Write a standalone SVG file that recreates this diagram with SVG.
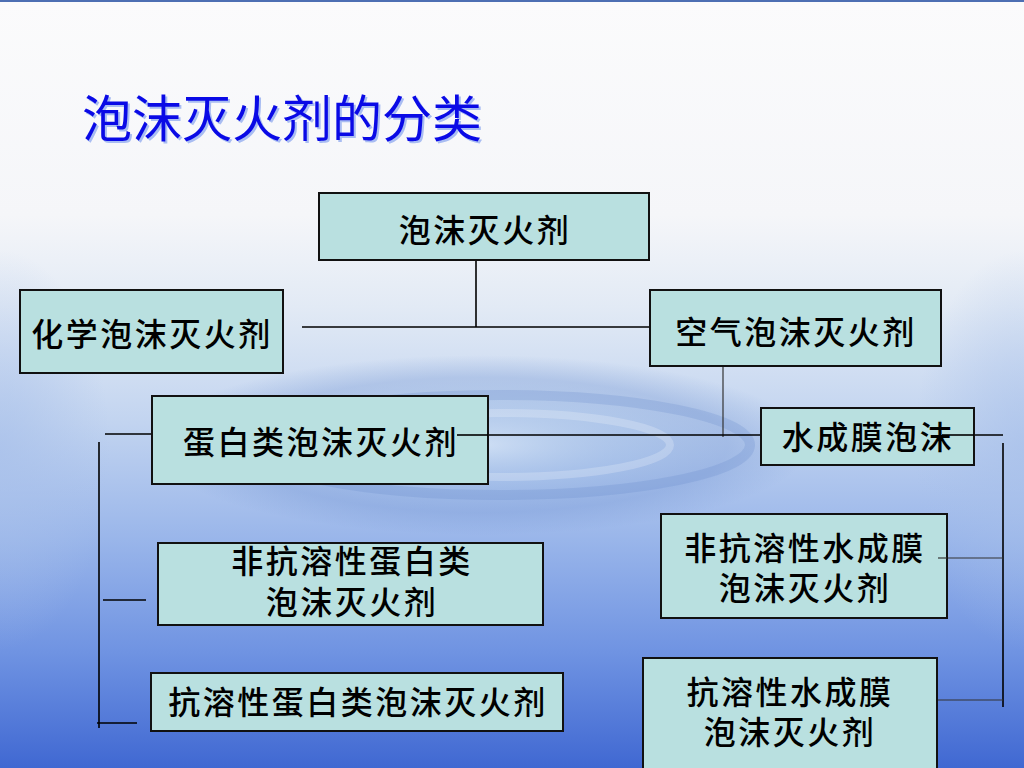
<svg xmlns="http://www.w3.org/2000/svg" width="1024" height="768" viewBox="0 0 1024 768">
<defs>
<linearGradient id="bg" x1="0" y1="0" x2="0" y2="1">
<stop offset="0" stop-color="#fbfbfc"/>
<stop offset="0.28" stop-color="#f5f6f9"/>
<stop offset="0.4" stop-color="#e2eaf5"/>
<stop offset="0.55" stop-color="#c2d4f0"/>
<stop offset="0.7" stop-color="#9ab6ea"/>
<stop offset="0.85" stop-color="#6f93e2"/>
<stop offset="1" stop-color="#4068d2"/>
</linearGradient>
<radialGradient id="rip" cx="0.5" cy="0.5" r="0.5">
<stop offset="0" stop-color="#dceaf8" stop-opacity="0.6"/>
<stop offset="0.45" stop-color="#8fb0e0" stop-opacity="0.35"/>
<stop offset="0.75" stop-color="#6c8fd0" stop-opacity="0.3"/>
<stop offset="1" stop-color="#6c8fd0" stop-opacity="0"/>
</radialGradient>
<radialGradient id="lside" cx="0" cy="0.5" r="0.5">
<stop offset="0" stop-color="#a8c0ea" stop-opacity="0.7"/>
<stop offset="1" stop-color="#a8c0ea" stop-opacity="0"/>
</radialGradient>
<radialGradient id="rside" cx="1" cy="0.5" r="0.5">
<stop offset="0" stop-color="#a8c0ea" stop-opacity="0.7"/>
<stop offset="1" stop-color="#a8c0ea" stop-opacity="0"/>
</radialGradient>
<style>
.box{fill:#b9e0e0;stroke:#111;stroke-width:2}
.t{font-family:"Noto Sans CJK SC","Noto Sans",sans-serif;font-size:32px;font-weight:500;letter-spacing:2.5px;fill:#000;text-anchor:middle}
.ln{stroke:#000;stroke-width:1.6;fill:none}
.lg{stroke:#333;stroke-width:1.2;fill:none}
</style>
</defs>
<rect width="1024" height="768" fill="url(#bg)"/>
<rect x="0" y="250" width="220" height="400" fill="url(#lside)"/>
<rect x="804" y="250" width="220" height="400" fill="url(#rside)"/>
<ellipse cx="480" cy="445" rx="330" ry="90" fill="url(#rip)"/>
<ellipse cx="500" cy="445" rx="250" ry="50" fill="none" stroke="#5f84c8" stroke-width="10" stroke-opacity="0.22"/>
<ellipse cx="500" cy="445" rx="170" ry="32" fill="none" stroke="#ffffff" stroke-width="8" stroke-opacity="0.22"/>
<rect width="1024" height="2" fill="#4d6fb3"/>

<text x="82" y="137" font-family="'Noto Sans CJK SC','Noto Sans',sans-serif" font-size="50" fill="#a9bdf2" transform="translate(2,2)">泡沫灭火剂的分类</text>
<text x="82" y="137" font-family="'Noto Sans CJK SC','Noto Sans',sans-serif" font-size="50" fill="#0a0ae6">泡沫灭火剂的分类</text>

<g id="connectors">
<line class="ln" x1="476" y1="260" x2="476" y2="327"/>
<line class="ln" x1="302" y1="327" x2="650" y2="327"/>
<line class="lg" x1="723" y1="366" x2="723" y2="437"/>
<line class="ln" x1="457" y1="435" x2="761" y2="435"/>
<line class="ln" x1="942" y1="435" x2="1003" y2="435"/>
<line class="ln" x1="105" y1="434" x2="152" y2="434"/>
<line class="ln" x1="99" y1="442" x2="99" y2="728"/>
<line class="ln" x1="103" y1="600" x2="146" y2="600"/>
<line class="ln" x1="97" y1="723" x2="137" y2="723"/>
<line class="ln" x1="1003" y1="443" x2="1003" y2="707"/>
<line class="lg" x1="938" y1="558" x2="1003" y2="558"/>
<line class="lg" x1="938" y1="700" x2="1003" y2="700"/>
</g>

<g id="n1"><rect class="box" x="319" y="193" width="330" height="67"/><text class="t" x="485" y="242">泡沫灭火剂</text></g>
<g id="n2"><rect class="box" x="20" y="290" width="263" height="83"/><text class="t" x="152" y="346">化学泡沫灭火剂</text></g>
<g id="n3"><rect class="box" x="650" y="290" width="291" height="76"/><text class="t" x="796" y="344">空气泡沫灭火剂</text></g>
<g id="n4"><rect class="box" x="152" y="396" width="336" height="88"/><text class="t" x="321" y="454">蛋白类泡沫灭火剂</text></g>
<g id="n5"><rect class="box" x="761" y="408" width="213" height="57"/><text class="t" x="868" y="449">水成膜泡沫</text></g>
<g id="n6"><rect class="box" x="158" y="543" width="385" height="82"/><text class="t"><tspan x="352" y="573">非抗溶性蛋白类</tspan><tspan x="352" y="614">泡沫灭火剂</tspan></text></g>
<g id="n7"><rect class="box" x="151" y="673" width="412" height="58"/><text class="t" x="358" y="714">抗溶性蛋白类泡沫灭火剂</text></g>
<g id="n8"><rect class="box" x="661" y="514" width="286" height="104"/><text class="t"><tspan x="805" y="560">非抗溶性水成膜</tspan><tspan x="805" y="600">泡沫灭火剂</tspan></text></g>
<g id="n9"><rect class="box" x="643" y="658" width="294" height="112"/><text class="t"><tspan x="790" y="704">抗溶性水成膜</tspan><tspan x="790" y="744">泡沫灭火剂</tspan></text></g>

<line class="ln" x1="457" y1="435" x2="488" y2="435"/>
<line class="ln" x1="942" y1="435" x2="974" y2="435"/>
<line class="lg" x1="938" y1="558" x2="947" y2="558"/>
</svg>
